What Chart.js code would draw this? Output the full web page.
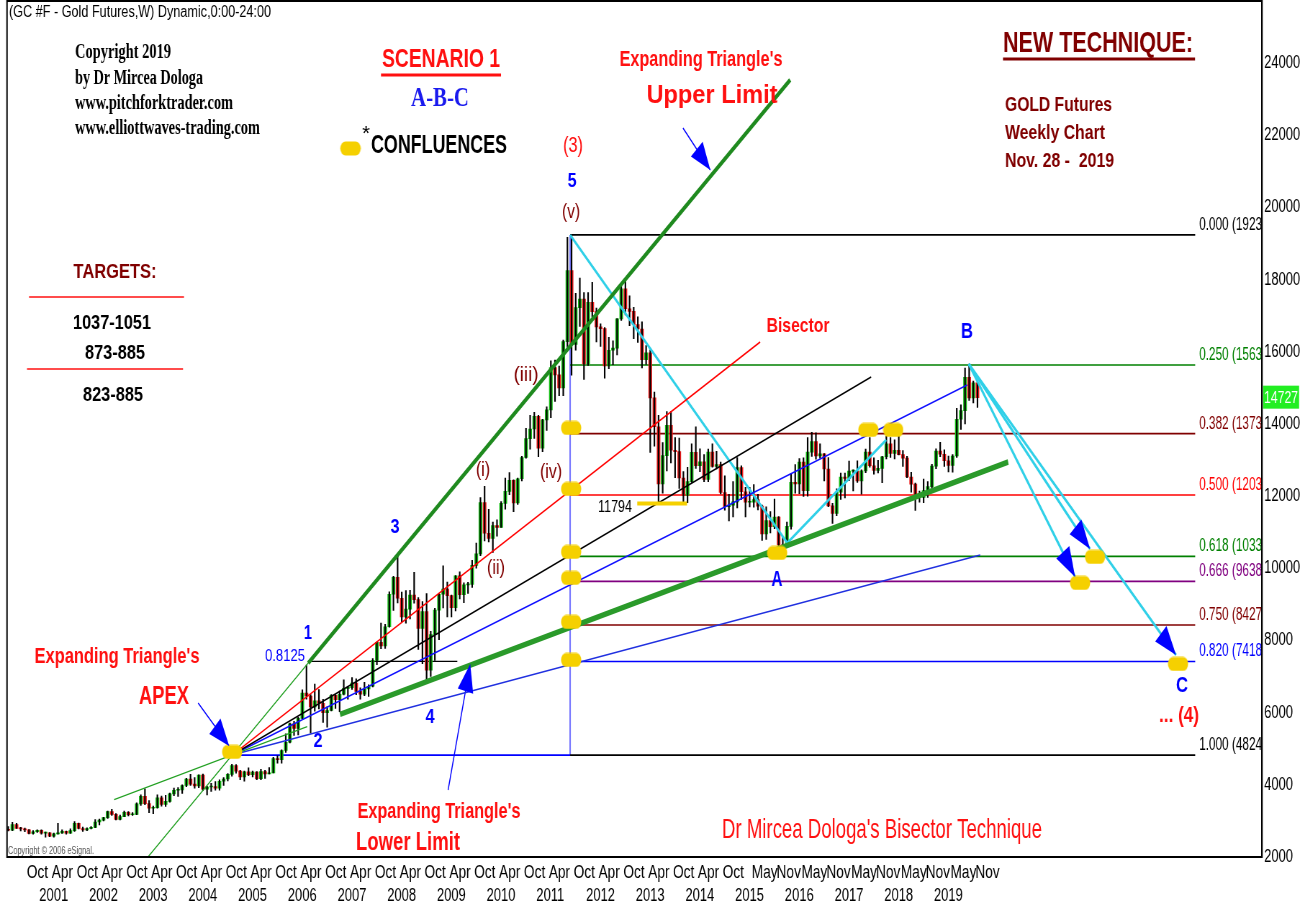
<!DOCTYPE html>
<html><head><meta charset="utf-8">
<script src="https://cdn.jsdelivr.net/npm/chart.js@4.4.1/dist/chart.umd.min.js"></script>
<style>html,body{margin:0;padding:0;background:#fff;overflow:hidden}canvas{display:block}</style>
</head><body>
<canvas id="c" width="1813" height="906" style="width:1305px;height:906px"></canvas>
<script>
// ---------------- DATA ----------------
const START_YEAR = 2000, START_MONTH = 5;   // first monthly candle: May 2000
const opens = [
2760,2740,2900,2790,2780,2750,2650,2700,
2740,2660,2670,2580,2640,2670,2710,2660,2730,2930,2790,2750,
2790,2820,2970,3020,3090,3260,3180,3040,3120,3240,3170,3180,
3470,3680,3480,3350,3370,3640,3460,3540,3750,3850,3860,3980,
4160,4020,3970,4270,3880,3940,3950,3910,4100,4160,4290,4530,
4380,4220,4360,4280,4350,4170,4370,4300,4330,4730,4700,4950,
5180,5690,5560,5840,6540,6460,6160,6330,6260,6000,6060,6480,
6360,6510,6670,6690,6820,6590,6510,6660,6730,7450,7950,7850,
8380,9280,9750,9170,8650,8870,9260,9130,8330,8800,7180,8160,
8840,9280,9420,9240,8910,9790,9270,9540,9550,10080,10400,11820,
10970,10830,11180,11130,11800,12130,12440,11810,12480,13070,13590,13860,
14210,13330,14110,14390,15560,15360,15000,16280,18250,16200,17220,17460,
15660,17370,17110,16690,16640,15610,16040,16100,16910,17740,17190,17120,
16750,16630,15780,15970,14720,13920,12340,13120,13960,13270,13230,12500,
12020,12400,13210,12840,12950,12460,13220,12820,12870,12100,11710,11750,
11840,12790,12120,11830,11830,11900,11720,10950,11320,11150,11420,10650,
10610,11160,12380,12340,12940,12150,13220,13510,13110,13170,12750,11730,
11520,12110,12530,12490,12690,12690,12420,12700,13220,12840,12710,12770,
13090,13450,13180,13270,13150,13050,12530,12330,12060,11960,12150,12260,
12830,13250,13160,12980,12850,13110,14130,14370,15290,14720,15140];
const highs = [
2840,2960,2930,2820,2800,2760,2730,2750,
2750,2690,2680,2660,2930,2750,2720,2780,2980,2940,2830,2810,
2840,3040,3050,3100,3270,3320,3200,3160,3270,3260,3230,3500,
3720,3890,3560,3410,3720,3690,3710,3770,3910,3920,4000,4180,
4290,4200,4280,4300,3960,4040,4090,4140,4200,4310,4570,4560,
4400,4380,4470,4380,4370,4430,4400,4480,4760,4800,4970,5410,
5710,5760,5880,6630,7320,6500,6790,6640,6370,6160,6500,6500,
6600,6910,6720,6970,6940,6690,6840,6770,7500,7960,8480,8450,
9350,9780,10330,9340,9380,9390,9890,9190,9080,9300,8250,8890,
9300,10070,9620,9260,9800,9900,9600,9610,10220,10700,11960,12270,
11630,11280,11340,11850,12500,12650,12450,12500,13100,13880,14240,14320,
14240,14130,14470,15750,15770,15600,16320,19170,19237,17620,18040,17640,
17640,17920,17210,16770,16670,16400,16300,16920,17910,17980,17550,17230,
16970,16830,16170,16050,14880,14240,13480,14340,14340,13620,13610,12680,
12800,13450,13920,13310,13150,13300,13450,13240,12940,12560,12050,12400,
13070,12840,12240,12240,12320,12050,11750,11700,11570,11920,11430,10880,
11280,12630,12870,13040,13060,13620,13770,13750,13450,13180,13070,11800,
12200,12640,12640,12970,12730,12980,12730,13300,13620,13060,12990,13100,
13660,13620,13560,13690,13260,13100,12660,12360,12140,12470,12400,12880,
13310,13490,13280,13110,13150,14430,14530,15550,15660,15190,15160];
const lows = [
2720,2730,2790,2720,2700,2640,2630,2680,
2630,2550,2560,2550,2630,2650,2630,2650,2710,2780,2710,2730,
2780,2810,2890,3000,3070,3150,3030,3030,3120,3140,3150,3170,
3430,3450,3230,3200,3350,3410,3400,3520,3700,3680,3760,3950,
3980,3910,3920,3840,3720,3820,3850,3850,3980,4110,4240,4320,
4140,4100,4250,4220,4140,4140,4180,4300,4330,4600,4600,4900,
5160,5370,5380,5830,6370,5430,6040,6100,5730,5600,6050,6120,
6030,6490,6370,6640,6500,6370,6470,6450,6710,7330,7770,7780,
8370,8830,9040,8520,8480,8600,9030,7750,7360,6810,7000,7450,
8020,8900,8650,8650,8820,9150,9050,9300,9470,10000,10350,10760,
10730,10440,10890,11130,11640,12040,11570,11770,12420,13050,13300,13600,
13090,13230,13820,14170,14620,14780,14780,16040,15350,16040,16700,15230,
15620,16960,16270,16150,15270,15530,15640,15910,16870,17020,16720,16360,
16260,15550,15650,13210,13380,11794,12080,12700,12920,12510,12210,11820,
11820,12380,12770,12680,12400,12400,12800,12750,12060,11610,11310,11420,
11670,11910,11420,11700,11690,11620,10770,10800,10980,11100,10520,10460,
10600,11080,12080,12070,11990,12000,13100,13020,13050,12420,11710,11240,
11460,11910,11950,12430,12140,12380,12050,12650,12800,12610,12640,12370,
13030,13070,13030,13140,12820,12510,12110,11600,11830,11820,11960,12220,
12760,13090,12820,12670,12660,13070,13850,14000,14650,14580,14460];
const closes = [
2740,2900,2790,2780,2750,2650,2700,2740,
2660,2670,2580,2640,2670,2710,2660,2730,2930,2790,2750,2790,
2820,2970,3020,3090,3260,3180,3040,3120,3240,3170,3180,3470,
3680,3480,3350,3370,3640,3460,3540,3750,3850,3860,3980,4160,
4020,3970,4270,3880,3940,3950,3910,4100,4160,4290,4530,4380,
4220,4360,4280,4350,4170,4370,4300,4330,4730,4700,4950,5180,
5690,5560,5840,6540,6460,6160,6330,6260,6000,6060,6480,6360,
6510,6670,6690,6820,6590,6510,6660,6730,7450,7950,7850,8380,
9280,9750,9170,8650,8870,9260,9130,8330,8800,7180,8160,8840,
9280,9420,9240,8910,9790,9270,9540,9550,10080,10400,11820,10970,
10830,11180,11130,11800,12130,12440,11810,12480,13070,13590,13860,14210,
13330,14110,14390,15560,15360,15000,16280,18250,16200,17220,17460,15660,
17370,17110,16690,16640,15610,16040,16100,16910,17740,17190,17120,16750,
16630,15780,15970,14720,13920,12340,13120,13960,13270,13230,12500,12020,
12400,13210,12840,12950,12460,13220,12820,12870,12100,11710,11750,11840,
12790,12120,11830,11830,11900,11720,10950,11320,11150,11420,10650,10610,
11160,12380,12340,12940,12150,13220,13510,13110,13170,12750,11730,11520,
12110,12530,12490,12690,12690,12420,12700,13220,12840,12710,12770,13090,
13450,13180,13270,13150,13050,12530,12330,12060,11960,12150,12260,12830,
13250,13160,12980,12850,13110,14130,14370,15290,14720,15140,14727];

const yTicks = [2000,4000,6000,8000,10000,12000,14000,16000,18000,20000,22000,24000];
const monthTicks = ['2000-10','2001-04','2001-10','2002-04','2002-10','2003-04','2003-10','2004-04','2004-10',
 '2005-04','2005-10','2006-04','2006-10','2007-04','2007-10','2008-04','2008-10','2009-04','2009-10',
 '2010-04','2010-10','2011-04','2011-10','2012-04','2012-10','2013-04','2013-10','2014-04','2014-10',
 '2015-05','2015-11','2016-05','2016-11','2017-05','2017-11','2018-05','2018-11','2019-05','2019-11'];
const yearTicks = [2001,2002,2003,2004,2005,2006,2007,2008,2009,2010,2011,2012,2013,2014,2015,2016,2017,2018,2019];
const MONTH_NAMES = ['Jan','Feb','Mar','Apr','May','Jun','Jul','Aug','Sep','Oct','Nov','Dec'];

// Fibonacci retracement (2011 peak -> apex level)
const fibRatios = ['0.000','0.250','0.382','0.500','0.618','0.666','0.750','0.820','1.000'];
const fibValues = [19237,15634,13731,12031,10330,9638,8427,7418,4824];
const fibStartT = 2011.68, fibEndT = 2024.255;

// Trend lines (time in years, value in chart units)
const apex = [2004.88, 4824];
const peak = [2011.68, 19237];
const upperLimitThin = [[2003.10, 1858], [2006.41, 7373]];
const upperLimitThick = [[2006.41, 7373], [2016.107, 23531]];
const lowerLimitThin = [[2002.505, 3589], [2006.39, 5609]];
const lowerLimitThick = [[2007.05, 5953], [2020.493, 12945]];
const bisectorEnd = [2015.503, 16271];
const blackRayEnd = [2017.736, 15301];
const blueRayEnd = [2019.668, 15079];
const blueLowRayEnd = [2019.93, 10368];
const level8125 = [[2006.41, 7418], [2009.41, 7418]];
const cyanPeakToA = [[2011.68, 19237], [2016.05, 10701]];
const cyanAUp = [[2016.05, 10701], [2018.04, 13555]];
const pointB = [2019.70, 15660];
const cTargets = [[2021.84, 9759], [2022.14, 10535], [2023.87, 7597]];
const pointers = [
  [[2004.195, 6267], [2004.82, 5076]],
  [[2013.95, 22201], [2014.50, 21037]],
  [[2009.225, 3857], [2009.67, 7348]]
];
const confluences = [[2004.88,4910],[2011.70,13888],[2011.70,12197],[2011.70,10452],[2011.70,9731],
  [2011.70,8512],[2011.70,7459],[2015.845,10424],[2017.68,13832],[2018.18,13832],
  [2021.94,9593],[2022.24,10313],[2023.91,7348]];
const bar11794 = [[2013.03, 11794], [2014.03, 11794]];

// ---------------- STYLE / LAYOUT ----------------
const K = 1305 / 1813;            // the canvas is drawn wide and shown horizontally condensed
const SANS = "'Liberation Sans', Arial, sans-serif";
const SERIF = "'Liberation Serif', 'Times New Roman', serif";
const RED = '#ff1010', MAROON = '#800000', BLUE = '#0000ff';
const fibColors = ['#000000','#008000','#800000','#ff0000','#008000','#800080','#800000','#0000ff','#000000'];
const X_MIN = 2000.35, X_MAX = 2025.60, Y_MIN = 2000, Y_MAX = 25690;

const monthT = s => { const [y, m] = s.split('-').map(Number); return y + (m - 1) / 12; };
const candleT = closes.map((_, i) => START_YEAR + (START_MONTH - 1 + i + 0.5) / 12);

const pill = document.createElement('canvas');
pill.width = 29; pill.height = 15;
(() => { const p = pill.getContext('2d'); p.fillStyle = '#f5d000'; p.beginPath();
  if (p.roundRect) p.roundRect(0.5, 0.5, 28, 14, 7); else p.ellipse(14.5, 7.5, 14, 7, 0, 0, Math.PI * 2);
  p.fill(); })();

const P = a => ({x: a[0], y: a[1]});
function seg(points, color, width, order) {
  return {type: 'line', data: points.map(P), borderColor: color, borderWidth: width,
    pointRadius: 0, fill: false, tension: 0, order: order == null ? 5 : order, xAxisID: 'x', yAxisID: 'y'};
}

const datasets = [];
datasets.push({type: 'bar', data: candleT.map((t, i) => ({x: t, y: [opens[i], closes[i]]})),
  backgroundColor: c => closes[c.dataIndex] >= opens[c.dataIndex] ? '#19c019' : '#ee1c1c',
  barThickness: 4.4, minBarLength: 1, grouped: false, order: 11, xAxisID: 'x', yAxisID: 'y'});
datasets.push({type: 'bar', data: candleT.map((t, i) => ({x: t, y: [lows[i], highs[i]]})),
  backgroundColor: '#000', barThickness: 1.5, grouped: false, order: 10, xAxisID: 'x', yAxisID: 'y'});
fibValues.forEach((v, i) => datasets.push(seg([[fibStartT, v], [fibEndT, v]], fibColors[i], 1.6, 20)));
datasets.push(seg([apex, [fibStartT, fibValues[8]]], '#0000ff', 1.6, 20));
datasets.push(seg([[peak[0], fibValues[8]], peak], '#7474ff', 2, 20));
datasets.push(seg(level8125, '#000', 1.3, 20));
datasets.push(seg(upperLimitThin, '#22a022', 1.3));
datasets.push(seg(upperLimitThick, '#1f8a1f', 4.5));
datasets.push(seg(lowerLimitThin, '#22a022', 1.3));
datasets.push(seg(lowerLimitThick, '#2a9a2a', 5.5));
datasets.push(seg([apex, bisectorEnd], '#ff0000', 1.6));
datasets.push(seg([apex, blackRayEnd], '#000', 1.6));
datasets.push(seg([apex, blueRayEnd], '#1010ff', 1.6));
datasets.push(seg([apex, blueLowRayEnd], '#2030e0', 1.6));
datasets.push(seg(cyanPeakToA, '#30d0e8', 2.8));
datasets.push(seg(cyanAUp, '#30d0e8', 2.8));
cTargets.forEach(t => datasets.push(seg([pointB, t], '#30d0e8', 3)));
pointers.forEach(p => datasets.push(seg(p, '#0000ff', 1.4)));
datasets.push(seg(bar11794, '#f5d000', 4, 4));
datasets.push({type: 'line', data: confluences.map(P), showLine: false, pointStyle: pill,
  pointRadius: 10, order: 1, xAxisID: 'x', yAxisID: 'y'});

// texts in screen pixels (x, y = anchor; w = drawn width)
const notes = [
 {t:'(GC #F - Gold Futures,W) Dynamic,0:00-24:00', x:9, y:13, size:16, color:'#000', align:'left', w:262},
 {t:'Copyright 2019', x:75, y:53, size:20, bold:1, serif:1, color:'#000', align:'left', w:96},
 {t:'by Dr Mircea Dologa', x:75, y:79, size:20, bold:1, serif:1, color:'#000', align:'left', w:128},
 {t:'www.pitchforktrader.com', x:75, y:104, size:20, bold:1, serif:1, color:'#000', align:'left', w:158},
 {t:'www.elliottwaves-trading.com', x:75, y:129, size:20, bold:1, serif:1, color:'#000', align:'left', w:185},
 {t:'SCENARIO 1', x:441, y:60, size:25, bold:1, color:RED, w:118},
 {t:'A-B-C', x:440, y:99, size:27, bold:1, serif:1, color:'#1a1aee', w:58},
 {t:'*', x:366, y:134, size:20, color:'#000', w:8},
 {t:'CONFLUENCES', x:371, y:146, size:25, bold:1, color:'#000', align:'left', w:136},
 {t:"Expanding Triangle's", x:701, y:60, size:22, bold:1, color:RED, w:163},
 {t:'Upper Limit', x:712, y:96, size:26, bold:1, color:RED, w:131},
 {t:'(3)', x:573, y:146, size:22, color:RED, w:20},
 {t:'5', x:572, y:181, size:20, bold:1, color:BLUE, w:9},
 {t:'(v)', x:571, y:212, size:20, color:MAROON, w:18},
 {t:'NEW TECHNIQUE:', x:1098, y:44, size:30, bold:1, color:MAROON, w:190},
 {t:'GOLD Futures', x:1005, y:105, size:21, bold:1, color:MAROON, align:'left', w:107},
 {t:'Weekly Chart', x:1005, y:133, size:21, bold:1, color:MAROON, align:'left', w:100},
 {t:'Nov. 28 -  2019', x:1005, y:161, size:21, bold:1, color:MAROON, align:'left', w:109},
 {t:'TARGETS:', x:115, y:272, size:20, bold:1, color:MAROON, w:83},
 {t:'1037-1051', x:112, y:323, size:21, bold:1, color:'#000', w:78},
 {t:'873-885', x:115, y:353, size:21, bold:1, color:'#000', w:60},
 {t:'823-885', x:113, y:395, size:21, bold:1, color:'#000', w:60},
 {t:'Bisector', x:798, y:326, size:21, bold:1, color:RED, w:63},
 {t:'B', x:967, y:332, size:22, bold:1, color:BLUE, w:12},
 {t:'A', x:777, y:580, size:22, bold:1, color:BLUE, w:11},
 {t:'C', x:1182, y:686, size:22, bold:1, color:BLUE, w:12},
 {t:'... (4)', x:1179, y:716, size:22, bold:1, color:RED, w:40},
 {t:"Expanding Triangle's", x:117, y:657, size:22, bold:1, color:RED, w:165},
 {t:'APEX', x:164, y:697, size:26, bold:1, color:RED, w:50},
 {t:'1', x:308, y:633, size:21, bold:1, color:BLUE, w:8},
 {t:'0.8125', x:285, y:656, size:17, color:BLUE, w:40},
 {t:'2', x:318, y:741, size:21, bold:1, color:BLUE, w:9},
 {t:'3', x:395, y:527, size:21, bold:1, color:BLUE, w:9},
 {t:'4', x:430, y:717, size:21, bold:1, color:BLUE, w:9},
 {t:'(i)', x:483, y:470, size:20, color:MAROON, w:14},
 {t:'(ii)', x:496, y:568, size:20, color:MAROON, w:18},
 {t:'(iii)', x:526, y:375, size:20, color:MAROON, w:25},
 {t:'(iv)', x:551, y:472, size:20, color:MAROON, w:22},
 {t:'11794', x:615, y:507, size:17, color:'#000', w:34},
 {t:"Expanding Triangle's", x:439, y:812, size:22, bold:1, color:RED, w:163},
 {t:'Lower Limit', x:408, y:843, size:26, bold:1, color:RED, w:104},
 {t:"Dr Mircea Dologa's Bisector Technique", x:882, y:830, size:28, color:RED, w:320},
 {t:'Copyright \u00a9 2006 eSignal.', x:8, y:851, size:11, color:'#555', align:'left', w:86}
];
const rules = [
 {x1:381, x2:501, y:75, w:3, c:RED},
 {x1:1003, x2:1195, y:59, w:3, c:MAROON},
 {x1:29, x2:184, y:297, w:1.5, c:RED},
 {x1:27, x2:183, y:369, w:1.5, c:RED}
];

function drawText(ctx, n) {
  ctx.save();
  ctx.font = (n.bold ? 'bold ' : '') + n.size + 'px ' + (n.serif ? SERIF : SANS);
  ctx.fillStyle = n.color;
  ctx.textBaseline = 'middle';
  ctx.textAlign = n.align || 'center';
  const w = ctx.measureText(n.t).width;
  ctx.translate(n.x, n.y);
  ctx.scale(n.w ? n.w / w : 1, 1);
  ctx.fillText(n.t, 0, 0);
  ctx.restore();
}
function arrowHead(ctx, x0, y0, x1, y1, len, hw, color) {
  const a = Math.atan2(y1 - y0, x1 - x0);
  ctx.save(); ctx.translate(x1, y1); ctx.rotate(a);
  ctx.beginPath(); ctx.moveTo(0, 0); ctx.lineTo(-len, -hw); ctx.lineTo(-len, hw); ctx.closePath();
  ctx.fillStyle = color; ctx.fill(); ctx.restore();
}

const decor = {
  id: 'decor',
  beforeDraw(chart) {
    const c = chart.ctx; c.save(); c.fillStyle = '#fff'; c.fillRect(0, 0, chart.width, chart.height); c.restore();
  },
  afterDatasetsDraw(chart) {
    const c = chart.ctx, xs = chart.scales.x, ys = chart.scales.y, a = chart.chartArea;
    const px = p => [xs.getPixelForValue(p[0]), ys.getPixelForValue(p[1])];
    pointers.forEach(p => { const s = px(p[0]), e = px(p[1]); arrowHead(c, s[0], s[1], e[0], e[1], 28, 11, '#0000ff'); });
    cTargets.forEach(t => { const s = px(pointB), e = px(t); arrowHead(c, s[0], s[1], e[0], e[1], 30, 11, '#0000ff'); });
    // fib labels, clipped by the price axis
    c.save();
    c.beginPath(); c.rect(a.left, a.top, a.right - a.left, a.bottom - a.top); c.clip();
    c.font = '18px ' + SANS; c.textBaseline = 'middle'; c.textAlign = 'left';
    fibValues.forEach((v, i) => {
      const label = fibRatios[i] + ' (' + v + ')';
      const sx = (63 / K) / c.measureText(label.slice(0, 11)).width;
      const x = xs.getPixelForValue(fibEndT) + 4 / K, y = ys.getPixelForValue(v) - 10;
      c.save(); c.translate(x, y); c.scale(sx, 1); c.fillStyle = fibColors[i];
      c.fillText(label, 0, 0); c.restore();
    });
    c.restore();
    // last price marker
    const last = closes[closes.length - 1], ly = ys.getPixelForValue(last);
    c.save(); c.fillStyle = '#22ee22'; c.fillRect(a.right + 1.5, ly - 12, 36 / K, 23);
    c.fillStyle = '#fff'; c.font = '17px ' + SANS; c.textBaseline = 'middle'; c.textAlign = 'left';
    c.fillText(String(last), a.right + 2 / K, ly + 1); c.restore();
  },
  afterDraw(chart) {
    const c = chart.ctx, a = chart.chartArea;
    c.save(); c.strokeStyle = '#000'; c.lineWidth = 2;
    c.strokeRect(a.left, a.top - 1, a.right - a.left, a.bottom - a.top + 1); c.restore();
    c.save(); c.scale(1 / K, 1);     // screen-pixel space for the annotation texts
    rules.forEach(r => { c.save(); c.strokeStyle = r.c; c.lineWidth = r.w; c.beginPath();
      c.moveTo(r.x1, r.y); c.lineTo(r.x2, r.y); c.stroke(); c.restore(); });
    c.drawImage(pill, 340, 141, 21, 15);
    notes.forEach(n => drawText(c, n));
    c.restore();
  }
};

const zeroPad = s => { s.paddingLeft = 0; s.paddingRight = 0; };
new Chart(document.getElementById('c'), {
  type: 'bar',
  data: {datasets},
  options: {
    responsive: false, animation: false, devicePixelRatio: 1,
    layout: {autoPadding: false, padding: {left: 7 / K, top: 2, right: 0, bottom: 0}},
    plugins: {legend: {display: false}, tooltip: {enabled: false}},
    scales: {
      x: {type: 'linear', position: 'bottom', min: X_MIN, max: X_MAX, offset: false, weight: 0,
        grid: {display: false, drawTicks: false}, border: {display: true, color: '#000', width: 1.5},
        ticks: {autoSkip: false, maxRotation: 0, minRotation: 0, align: 'start', padding: 4, color: '#000',
          font: {family: SANS, size: 19},
          callback: (v, i) => MONTH_NAMES[Number(monthTicks[i].split('-')[1]) - 1]},
        afterBuildTicks: s => { s.ticks = monthTicks.map(m => ({value: monthT(m)})); },
        afterFit: s => { s.height = 25; zeroPad(s); }},
      x2: {type: 'linear', position: 'bottom', min: X_MIN, max: X_MAX, offset: false, weight: 1,
        grid: {display: false, drawTicks: false}, border: {display: false},
        ticks: {autoSkip: false, maxRotation: 0, minRotation: 0, align: 'start', padding: 3, color: '#000',
          font: {family: SANS, size: 18},
          callback: (v, i) => String(yearTicks[i])},
        afterBuildTicks: s => { s.ticks = yearTicks.map(y => ({value: y})); },
        afterFit: s => { s.height = 24; zeroPad(s); }},
      y: {type: 'linear', position: 'right', min: Y_MIN, max: Y_MAX,
        grid: {display: false, drawTicks: false}, border: {display: true, color: '#000', width: 2},
        ticks: {autoSkip: false, padding: 3, color: '#000', font: {family: SANS, size: 18},
          callback: v => String(v)},
        afterBuildTicks: s => { s.ticks = yTicks.map(v => ({value: v})); },
        afterFit: s => { s.width = 43 / K; s.paddingTop = 0; s.paddingBottom = 0; }}
    }
  },
  plugins: [decor]
});
</script>
</body></html>
